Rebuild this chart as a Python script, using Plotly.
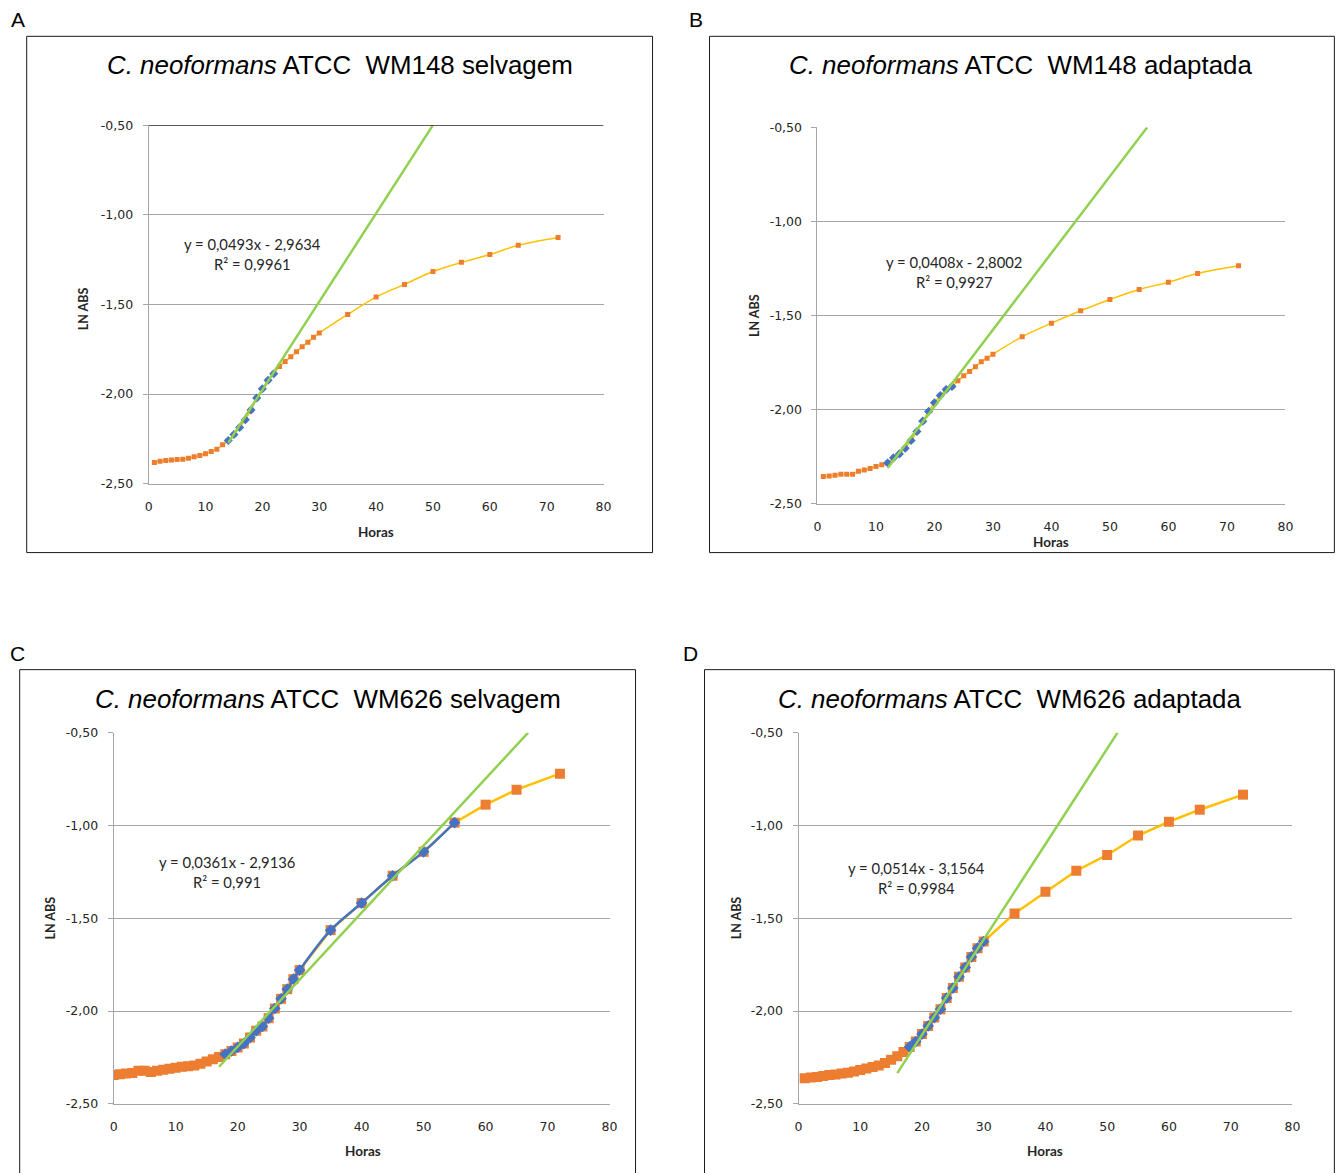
import plotly.graph_objects as go

W, H = 1341, 1173

# ---------------- data ----------------
# Panel A: WM148 selvagem
a_hours = list(range(1, 31)) + [35, 40, 45, 50, 55, 60, 65, 72]
a_lnabs = [-2.383, -2.376, -2.372, -2.368, -2.366, -2.364, -2.359, -2.351, -2.344, -2.333,
           -2.321, -2.309, -2.284, -2.260, -2.226, -2.187, -2.144, -2.089, -2.022, -1.971,
           -1.923, -1.887, -1.846, -1.818, -1.792, -1.764, -1.736, -1.711, -1.683, -1.660,
           -1.556, -1.459, -1.388, -1.316, -1.265, -1.221, -1.170, -1.126]
a_fit_hours = list(range(14, 23))
a_fit_lnabs = [-2.260, -2.226, -2.187, -2.144, -2.089, -2.022, -1.971, -1.923, -1.887]
a_slope, a_intercept, a_r2, a_trend_start = 0.0493, -2.9634, "0,9961", 14

# Panel B: WM148 adaptada
b_hours = list(range(1, 31)) + [35, 40, 45, 50, 55, 60, 65, 72]
b_lnabs = [-2.356, -2.353, -2.349, -2.344, -2.344, -2.344, -2.328, -2.322, -2.313, -2.303,
           -2.294, -2.284, -2.257, -2.236, -2.206, -2.165, -2.117, -2.062, -2.010, -1.964,
           -1.926, -1.894, -1.878, -1.847, -1.821, -1.798, -1.773, -1.746, -1.727, -1.706,
           -1.613, -1.541, -1.475, -1.415, -1.362, -1.323, -1.277, -1.236]
b_fit_hours = list(range(12, 24))
b_fit_lnabs = [-2.284, -2.257, -2.236, -2.206, -2.165, -2.117, -2.062, -2.010, -1.964,
               -1.926, -1.894, -1.878]
b_slope, b_intercept, b_r2, b_trend_start = 0.0408, -2.8002, "0,9927", 12

# Panel C: WM626 selvagem
c_hours = list(range(0, 31)) + [35, 40, 45, 50, 55, 60, 65, 72]
c_lnabs = [-2.345, -2.340, -2.337, -2.333, -2.322, -2.322, -2.328, -2.322, -2.316, -2.311,
           -2.305, -2.300, -2.297, -2.293, -2.284, -2.272, -2.260, -2.248,
           -2.232, -2.215, -2.196, -2.175, -2.143, -2.106, -2.083, -2.038, -1.986, -1.934,
           -1.882, -1.828, -1.779,
           -1.564, -1.418, -1.271, -1.142, -0.985, -0.888, -0.807, -0.721]
c_fit_hours = list(range(18, 31)) + [35, 40, 45, 50, 55]
c_fit_lnabs = [-2.232, -2.215, -2.196, -2.175, -2.143, -2.106, -2.083, -2.038, -1.986,
               -1.934, -1.882, -1.828, -1.779, -1.564, -1.418, -1.271, -1.142, -0.985]
c_slope, c_intercept, c_r2, c_trend_start = 0.0361, -2.9136, "0,991", 17

# Panel D: WM626 adaptada
d_hours = list(range(1, 31)) + [35, 40, 45, 50, 55, 60, 65, 72]
d_lnabs = [-2.362, -2.358, -2.355, -2.350, -2.345, -2.342, -2.337, -2.332, -2.325, -2.318,
           -2.310, -2.302, -2.293, -2.280, -2.262, -2.243, -2.220,
           -2.193, -2.164, -2.124, -2.080, -2.035, -1.990, -1.930, -1.876, -1.815, -1.765,
           -1.708, -1.661, -1.625,
           -1.474, -1.357, -1.244, -1.159, -1.054, -0.980, -0.915, -0.834]
d_fit_hours = list(range(18, 31))
d_fit_lnabs = [-2.193, -2.164, -2.124, -2.080, -2.035, -1.990, -1.930, -1.876, -1.815,
               -1.765, -1.708, -1.661, -1.625]
d_slope, d_intercept, d_r2, d_trend_start = 0.0514, -3.1564, "0,9984", 16

x_ticks = [0, 10, 20, 30, 40, 50, 60, 70, 80]
y_ticks = [-2.5, -2.0, -1.5, -1.0, -0.5]
y_tick_labels = ["-2,50", "-2,00", "-1,50", "-1,00", "-0,50"]

panels = [
    dict(letter="A", strain="WM148 selvagem", hours=a_hours, lnabs=a_lnabs,
         fh=a_fit_hours, fv=a_fit_lnabs, m=a_slope, b=a_intercept, r2=a_r2, ts=a_trend_start,
         box=(26, 36, 652, 552), plot=(148, 603, 125, 483), title=(339, 65),
         eq=(252, 244), horas=(375, 531), ln=(83, 308), lpos=(17, 19), big=False),
    dict(letter="B", strain="WM148 adaptada", hours=b_hours, lnabs=b_lnabs,
         fh=b_fit_hours, fv=b_fit_lnabs, m=b_slope, b=b_intercept, r2=b_r2, ts=b_trend_start,
         box=(709, 36, 1334, 552), plot=(817, 1285, 127, 503), title=(1021, 65),
         eq=(954, 262), horas=(1051, 541), ln=(754, 315), lpos=(695, 19), big=False),
    dict(letter="C", strain="WM626 selvagem", hours=c_hours, lnabs=c_lnabs,
         fh=c_fit_hours, fv=c_fit_lnabs, m=c_slope, b=c_intercept, r2=c_r2, ts=c_trend_start,
         box=(19, 669, 635, 1195), plot=(113, 609, 732, 1103), title=(327, 698),
         eq=(226, 861), horas=(362, 1150), ln=(50, 917), lpos=(17, 653), big=True),
    dict(letter="D", strain="WM626 adaptada", hours=d_hours, lnabs=d_lnabs,
         fh=d_fit_hours, fv=d_fit_lnabs, m=d_slope, b=d_intercept, r2=d_r2, ts=d_trend_start,
         box=(704, 669, 1334, 1195), plot=(798, 1292, 732, 1103), title=(1010, 698),
         eq=(916, 867), horas=(1045, 1150), ln=(736, 917), lpos=(690, 653), big=True),
]

ORANGE = "#ED7D31"
YELLOW = "#FFC000"
BLUE = "#4472C4"
GREEN = "#92D050"
GRID = "#A6A6A6"
TICKFONT = dict(family="DejaVu Sans", size=12.5, color="#262626")

# calibration of the rendered page (observed offset/scale of the screenshot)
CAL_AX, CAL_BX = 3.3, 0.9913
CAL_AY, CAL_BY = 7.7, 0.9867


def px(x):
    return ((x - CAL_AX) / CAL_BX) / W


def py(y):
    return 1 - ((y - CAL_AY) / CAL_BY) / H


fig = go.Figure()
annotations = []
shapes = []
layout_axes = {}

for i, p in enumerate(panels, start=1):
    xs = "x" if i == 1 else f"x{i}"
    ys = "y" if i == 1 else f"y{i}"
    xa = "xaxis" if i == 1 else f"xaxis{i}"
    ya = "yaxis" if i == 1 else f"yaxis{i}"
    big = p["big"]

    fig.add_trace(go.Scatter(
        x=p["hours"], y=p["lnabs"], xaxis=xs, yaxis=ys, mode="lines+markers",
        line=dict(color=YELLOW, width=2.5 if big else 1.5,
                  shape="linear" if big else "spline"),
        marker=dict(symbol="square", size=10 if big else 5, color=ORANGE),
        showlegend=False, hoverinfo="skip"))
    fig.add_trace(go.Scatter(
        x=p["fh"], y=p["fv"], xaxis=xs, yaxis=ys,
        mode="lines+markers" if big else "markers",
        line=dict(color=BLUE, width=2.5, shape="spline"),
        marker=dict(symbol="diamond", size=9 if big else 7, color=BLUE),
        showlegend=False, hoverinfo="skip"))
    t_end = (-0.5 - p["b"]) / p["m"]
    t_x = [p["ts"], t_end]
    t_y = [p["m"] * v + p["b"] for v in t_x]
    fig.add_trace(go.Scatter(
        x=t_x, y=t_y, xaxis=xs, yaxis=ys, mode="lines",
        line=dict(color=GREEN, width=2.5), showlegend=False, hoverinfo="skip"))

    x0, x1, yt, yb = p["plot"]
    layout_axes[xa] = dict(
        domain=[px(x0), px(x1)], range=[0, 80], anchor=ys,
        tickvals=x_ticks, ticktext=[str(v) for v in x_ticks],
        showgrid=False, zeroline=False, showline=True, linecolor=GRID, linewidth=1,
        ticks="outside", ticklen=11, tickcolor="rgba(0,0,0,0)",
        tickfont=TICKFONT, fixedrange=True)
    layout_axes[ya] = dict(
        domain=[py(yb), py(yt)], range=[-2.5, -0.5], anchor=xs,
        tickvals=y_ticks, ticktext=y_tick_labels,
        showgrid=True, gridcolor=GRID, gridwidth=1, zeroline=False,
        showline=True, linecolor=GRID, linewidth=1,
        ticks="outside", ticklen=5, tickcolor=GRID, ticklabelstandoff=7,
        tickfont=TICKFONT, fixedrange=True)

    if p["letter"] == "A":
        shapes.append(dict(type="line", xref=xs, yref=ys, x0=0, x1=80, y0=-0.5, y1=-0.5,
                           line=dict(color="black", width=1)))

    bx0, by0, bx1, by1 = p["box"]
    shapes.append(dict(type="rect", xref="paper", yref="paper",
                       x0=px(bx0), x1=px(bx1), y0=py(by1), y1=py(by0),
                       line=dict(color="#1a1a1a", width=1), layer="below"))

    annotations.append(dict(x=px(p["lpos"][0]), y=py(p["lpos"][1]), xref="paper", yref="paper",
                            text=p["letter"], showarrow=False, xanchor="center", yanchor="middle",
                            font=dict(family="Liberation Sans, Arial", size=21, color="black")))
    annotations.append(dict(x=px(p["title"][0]), y=py(p["title"][1]), xref="paper", yref="paper",
                            text="<i>C. neoformans</i> ATCC  " + p["strain"], showarrow=False,
                            xanchor="center", yanchor="middle",
                            font=dict(family="Liberation Sans, Arial", size=25.9, color="black")))
    eq1 = f"y = {p['m']:.4f}x - {abs(p['b']):.4f}".replace(".", ",")
    eq2 = f"R² = {p['r2']}"
    annotations.append(dict(x=px(p["eq"][0]), y=py(p["eq"][1]), xref="paper", yref="paper",
                            text=eq1, showarrow=False, xanchor="center", yanchor="middle",
                            font=dict(family="Lato", size=14.8, color="#262626")))
    annotations.append(dict(x=px(p["eq"][0]), y=py(p["eq"][1] + 20), xref="paper", yref="paper",
                            text=eq2, showarrow=False, xanchor="center", yanchor="middle",
                            font=dict(family="Lato", size=14.8, color="#262626")))
    annotations.append(dict(x=px(p["horas"][0]), y=py(p["horas"][1]), xref="paper", yref="paper",
                            text="<b>Horas</b>", showarrow=False, xanchor="center", yanchor="middle",
                            font=dict(family="Lato", size=13.5, color="#262626")))
    annotations.append(dict(x=px(p["ln"][0]), y=py(p["ln"][1]), xref="paper", yref="paper",
                            text="<b>LN ABS</b>", showarrow=False, xanchor="center", yanchor="middle",
                            textangle=-90,
                            font=dict(family="Lato", size=12.5, color="#262626")))

fig.update_layout(
    width=W, height=H, margin=dict(l=0, r=0, t=0, b=0, pad=0),
    paper_bgcolor="white", plot_bgcolor="white",
    annotations=annotations, shapes=shapes, showlegend=False,
    **layout_axes)

fig.write_html("out.html", include_plotlyjs=True, config={"displayModeBar": False})
